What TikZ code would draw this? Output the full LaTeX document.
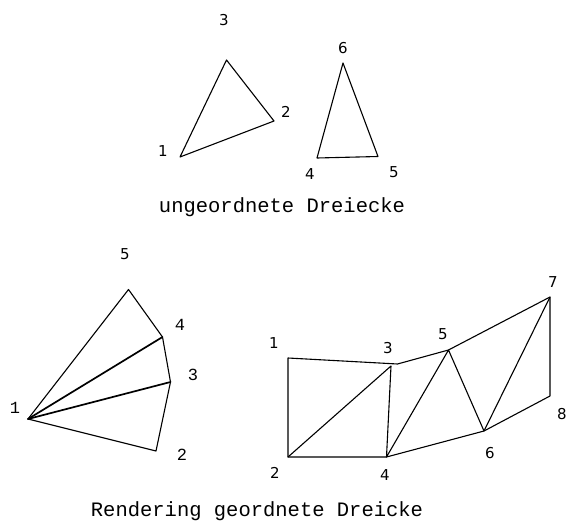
\documentclass[tikz,border=0pt]{standalone}
\usepackage{fontspec}
\newfontfamily\capfont{Liberation Mono}
\newfontfamily\numfont{DejaVu Sans}

\begin{document}
\begin{tikzpicture}[line width=1.1pt, line cap=round, line join=round, x=1pt, y=-1pt,
  num/.style={font=\numfont\fontsize{15}{15}\selectfont, inner sep=0pt},
  mnum/.style={font=\capfont\fontsize{17}{17}\selectfont, inner sep=0pt},
  caption/.style={font=\capfont\fontsize{20.5}{20.5}\selectfont, inner sep=0pt, anchor=base}]
  \useasboundingbox (0,0) rectangle (566,522);

  % ungeordnete Dreiecke
  \coordinate (u1) at (180,157);
  \coordinate (u2) at (274,121);
  \coordinate (u3) at (226.5,60);
  \coordinate (u4) at (317,158);
  \coordinate (u5) at (378,156.5);
  \coordinate (u6) at (343,63);
  \draw (u1) -- (u3) -- (u2) -- cycle;
  \draw (u4) -- (u6) -- (u5) -- cycle;
  \node[num] (lu1) at (163,151) {1};
  \node[num] (lu2) at (286,112) {2};
  \node[num] (lu3) at (224,20) {3};
  \node[num] (lu4) at (310,174) {4};
  \node[num] (lu5) at (394,172) {5};
  \node[num] (lu6) at (343,48) {6};
  \node[caption] (capu) at (282,212) {ungeordnete Dreiecke};

  % Faecher
  \coordinate (f1) at (28,419);
  \coordinate (f2) at (156,451);
  \coordinate (f3) at (170.5,382);
  \coordinate (f4) at (162.5,337);
  \coordinate (f5) at (128.5,289.5);
  \draw (f1) -- (f5) -- (f4) -- (f3) -- (f2) -- cycle;
  \draw[line width=1.7pt] (f1) -- (f4);
  \draw[line width=1.7pt] (f1) -- (f3);
  \node[mnum] (lf1) at (15,408) {1};
  \node[mnum] (lf2) at (182,455) {2};
  \node[mnum] (lf3) at (193,375) {3};
  \node[mnum] (lf4) at (180,325) {4};
  \node[num] (lf5) at (125,254) {5};

  % Streifen
  \coordinate (s1) at (288,358);
  \coordinate (s2) at (288,457);
  \coordinate (s3) at (391,366);
  \coordinate (s3b) at (397.5,364);
  \coordinate (s4) at (386.5,457);
  \coordinate (s5) at (448.5,350);
  \coordinate (s6) at (484,431);
  \coordinate (s7) at (550,297);
  \coordinate (s8) at (550,396);
  \draw (s1) -- (s3b) -- (s5) -- (s7) -- (s8) -- (s6) -- (s4) -- (s2) -- cycle;
  \draw (s2) -- (s3) -- (s4) -- (s5) -- (s6) -- (s7);
  \node[num] (ls1) at (274,343) {1};
  \node[num] (ls2) at (275,473) {2};
  \node[num] (ls3) at (388,348) {3};
  \node[num] (ls4) at (385,475) {4};
  \node[num] (ls5) at (443,334) {5};
  \node[num] (ls6) at (490,453) {6};
  \node[num] (ls7) at (553,282) {7};
  \node[num] (ls8) at (562,414) {8};
  \node[caption] (caps) at (257,516) {Rendering geordnete Dreicke};
\end{tikzpicture}
\end{document}
